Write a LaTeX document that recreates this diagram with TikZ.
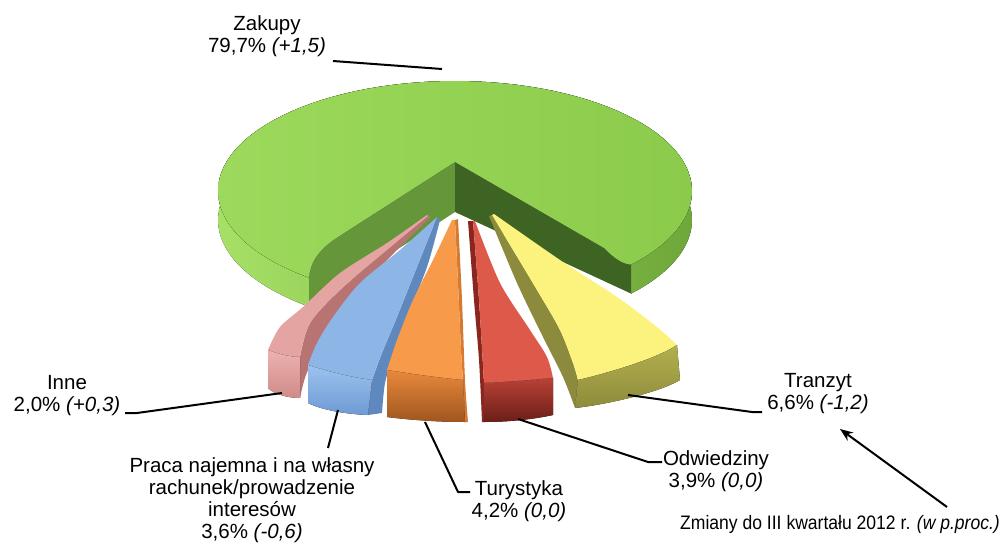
\documentclass[tikz,border=0pt]{standalone}
\usepackage{fontspec}
\setmainfont{Liberation Sans}
\usetikzlibrary{arrows.meta}
\definecolor{gTopL}{HTML}{9CD95C}
\definecolor{gTopR}{HTML}{8BCB4B}
\definecolor{gSideL}{HTML}{A6E066}
\definecolor{gSideR}{HTML}{6FA83A}
\definecolor{gCutL}{HTML}{65963A}
\definecolor{gCutR}{HTML}{3E6424}
\definecolor{pinkTop}{HTML}{E3A4A2}
\definecolor{pinkCut}{HTML}{B87472}
\definecolor{pinkFT}{HTML}{EDB2B0}
\definecolor{pinkFB}{HTML}{CF8B89}
\definecolor{blueTop}{HTML}{8DB6E6}
\definecolor{blueCut}{HTML}{5E88BE}
\definecolor{blueFT}{HTML}{9CC2EE}
\definecolor{blueFB}{HTML}{6E9AD4}
\definecolor{orTop}{HTML}{F79A4A}
\definecolor{orCut}{HTML}{D47A32}
\definecolor{orFT}{HTML}{E8893C}
\definecolor{orFB}{HTML}{A0561E}
\definecolor{redTop}{HTML}{DD5A4B}
\definecolor{redCut}{HTML}{8A2620}
\definecolor{redFT}{HTML}{B84236}
\definecolor{redFB}{HTML}{6B1E18}
\definecolor{yelTop}{HTML}{FBF37E}
\definecolor{yelCut}{HTML}{8C8A3D}
\definecolor{yelFT}{HTML}{B3B04F}
\definecolor{yelFB}{HTML}{8E8B3B}
\begin{document}
\begin{tikzpicture}[x=1pt,y=-1pt,
  lbl/.style={font=\fontsize{20.5}{22}\selectfont, align=center, inner sep=0pt, anchor=north},
  leader/.style={line width=2pt, black, line join=round},
  pointer/.style={line width=2pt, black, -{Stealth[length=13pt,width=10pt]}}]
\useasboundingbox (0,0) rectangle (1005,546);

% ---- Zakupy (green) ----
\fill[left color=gSideL, right color=gSideR]
  plot[domain=128:402,samples=90] ({455+237*cos(\x)},{191+110*sin(\x)})
  -- plot[domain=402:128,samples=90] ({455+237*cos(\x)},{220+110*sin(\x)}) -- cycle;
\fill[gCutL] (455,162) -- (338,237) .. controls (318,250) and (310,263) .. (309.09,277.68)
  -- (309.09,306.68) -- (455,212) -- cycle;
\fill[gCutR] (455,162) -- (604,248) .. controls (614,258) and (622,264) .. (631.12,264.6)
  -- (631.12,293.6) -- (455,212) -- cycle;
\fill[left color=gTopL, right color=gTopR] (455,162) -- (338,237) .. controls (318,250) and (310,263) .. (309.09,277.68)
  -- plot[domain=128:402,samples=90] ({455+237*cos(\x)},{191+110*sin(\x)})
  .. controls (622,264) and (614,258) .. (604,248) -- cycle;

% ---- Inne (pink) ----
\fill[pinkCut] plot[smooth] coordinates {(431,217) (395,252) (352,298) (322,340) (306,375) (300,398)}
  -- plot[smooth] coordinates {(300,357) (310,323) (340,290) (387,250) (428,216)} -- cycle;
\fill[pinkTop] plot[smooth] coordinates {(427,215) (387,243) (340,273) (303,307) (280,327) (268,350)}
  .. controls (278,354) and (290,357) .. (300,357)
  -- plot[smooth] coordinates {(300,357) (310,323) (340,290) (387,250) (428,216)} -- cycle;
\fill[top color=pinkFT, bottom color=pinkFB] (268,350) .. controls (278,354) and (290,357) .. (300,357)
  -- (300,398) .. controls (290,398) and (275,395) .. (268,388) -- cycle;

% ---- Praca (blue) ----
\fill[blueCut] plot[smooth] coordinates {(440,220) (427,267) (407,317) (393,357) (385,383) (382,413)}
  -- (368,415) -- plot[smooth] coordinates {(372,380) (382,353) (397,317) (413,277) (433,227) (437,218)} -- cycle;
\fill[blueTop] plot[smooth] coordinates {(437,217) (400,250) (360,283) (333,317) (317,343) (308,365)}
  .. controls (330,372) and (350,377) .. (372,380)
  -- plot[smooth] coordinates {(372,380) (382,353) (397,317) (413,277) (433,227) (437,217)} -- cycle;
\fill[top color=blueFT, bottom color=blueFB] (308,365) .. controls (330,372) and (350,377) .. (372,380)
  -- (368,415) .. controls (345,414) and (322,410) .. (308,403) -- cycle;

% ---- Turystyka (orange) ----
\fill[orCut] plot[smooth] coordinates {(455,220) (458,283) (461,350) (463,380)} -- (465,422)
  -- plot[smooth] coordinates {(468,422) (465,380) (462,300) (458,219)} -- cycle;
\fill[orTop] plot[smooth] coordinates {(452,220) (433,260) (413,300) (397,340) (387,370)}
  .. controls (412,374) and (440,378) .. (463,380)
  -- plot[smooth] coordinates {(463,380) (461,350) (458,283) (455,220)} -- cycle;
\fill[top color=orFT, bottom color=orFB] (387,370) .. controls (412,374) and (440,378) .. (463,380)
  -- (465,422) .. controls (440,422) and (410,420) .. (387,417) -- cycle;

% ---- Odwiedziny (red) ----
\fill[redCut] plot[smooth] coordinates {(468,221) (474,300) (479,360) (482,422)} -- (485,422) -- (484,383)
  -- plot[smooth] coordinates {(484,383) (479,300) (473,221)} -- cycle;
\fill[redTop] plot[smooth] coordinates {(473,221) (479,300) (484,383)}
  .. controls (508,382) and (532,380) .. (553,378)
  -- plot[smooth] coordinates {(553,378) (547,357) (530,330) (500,283) (475,221)} -- cycle;
\fill[top color=redFT, bottom color=redFB] (484,383) .. controls (508,382) and (532,380) .. (553,378)
  -- (553,415) .. controls (530,420) and (505,422) .. (484,422) -- cycle;

% ---- Tranzyt (yellow) ----
\fill[yelCut] plot[smooth] coordinates {(489,216) (517,283) (543,337) (563,377) (575,408)} -- (578,380)
  -- plot[smooth] coordinates {(578,380) (573,363) (560,330) (537,290) (492,215)} -- cycle;
\fill[yelTop] plot[smooth] coordinates {(492,215) (537,290) (560,330) (573,363) (578,380)}
  .. controls (600,375) and (655,360) .. (677,345)
  -- plot[smooth] coordinates {(677,345) (657,327) (617,297) (560,260) (494,214)} -- cycle;
\fill[top color=yelFT, bottom color=yelFB] (578,380) .. controls (600,375) and (655,360) .. (677,345)
  -- (680,380) .. controls (660,392) and (610,404) .. (575,408) -- cycle;

% ---- labels ----
\node[lbl] (zak) at (267,15.5) {Zakupy\\79,7\% \textit{(+1,5)}};
\node[lbl] (inne) at (67,375) {Inne\\2,0\% \textit{(+0,3)}};
\node[lbl] (praca) at (252,457) {Praca najemna i na własny\\rachunek/prowadzenie\\interesów\\3,6\% \textit{(-0,6)}};
\node[lbl] (tur) at (519,480) {Turystyka\\4,2\% \textit{(0,0)}};
\node[lbl] (odw) at (716,450) {Odwiedziny\\3,9\% \textit{(0,0)}};
\node[lbl] (tran) at (818,373) {Tranzyt\\6,6\% \textit{(-1,2)}};
\node[lbl, font=\fontsize{19.5}{22}\selectfont] (zm) at (840,515.5) {\scalebox{0.9}[1]{Zmiany do III kwartału 2012 r. \textit{(w p.proc.)}}};

% ---- leader lines ----
\coordinate (zkA) at (333,61);  \coordinate (zkB) at (442,69);
\coordinate (inA) at (125,413); \coordinate (inM) at (137,413); \coordinate (inB) at (282,393);
\coordinate (prA) at (328,448); \coordinate (prB) at (338,410);
\coordinate (tuA) at (470,492); \coordinate (tuM) at (458,492); \coordinate (tuB) at (425,422);
\coordinate (odA) at (662,462); \coordinate (odM) at (648,462); \coordinate (odB) at (518,419);
\coordinate (trA) at (762,412); \coordinate (trM) at (752,412); \coordinate (trB) at (628,395);
\coordinate (arA) at (947,507); \coordinate (arB) at (840,429);
\draw[leader] (zkA) -- (zkB);
\draw[leader] (inA) -- (inM) -- (inB);
\draw[leader] (prA) -- (prB);
\draw[leader] (tuA) -- (tuM) -- (tuB);
\draw[leader] (odA) -- (odM) -- (odB);
\draw[leader] (trA) -- (trM) -- (trB);
\draw[pointer] (arA) -- (arB);
\end{tikzpicture}
\end{document}
